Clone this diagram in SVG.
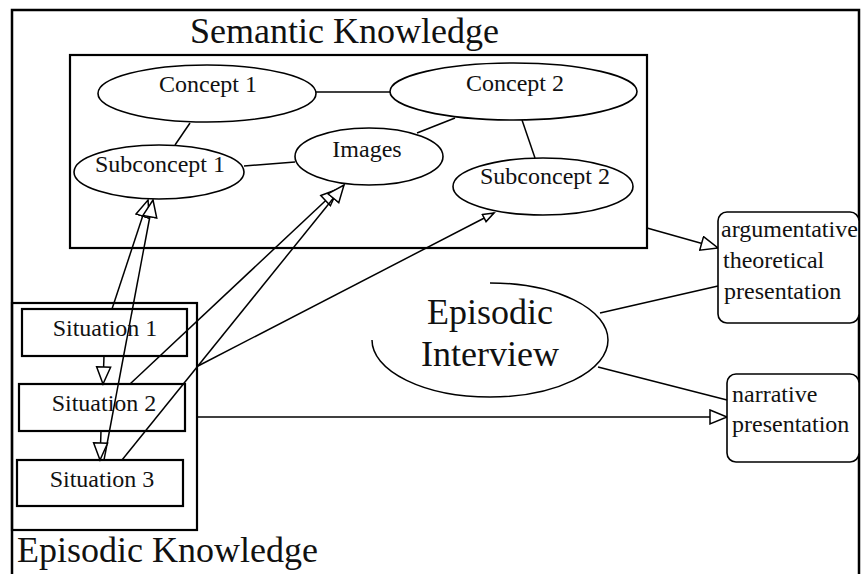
<svg xmlns="http://www.w3.org/2000/svg" width="861" height="574" viewBox="0 0 861 574">
<style>
text{font-family:"Liberation Serif","Times New Roman",serif;fill:#111}
.n{font-family:"Liberation Serif","Times New Roman",serif;font-size:24px;text-anchor:middle}
.t{font-family:"Liberation Serif","Times New Roman",serif;font-size:24px}
.big{font-family:"Liberation Serif","Times New Roman",serif;font-size:36px}
.box{fill:none;stroke:#000;stroke-width:2.2}
.ell{fill:#fff;stroke:#000;stroke-width:1.6}
.rbox{fill:#fff;stroke:#000;stroke-width:1.6}
.ln{fill:none;stroke:#000;stroke-width:1.5}
.ar{marker-end:url(#arr)}
.as{marker-end:url(#arrs)}
</style>
<defs>
<marker id="arr" markerUnits="userSpaceOnUse" markerWidth="20" markerHeight="18" viewBox="0 0 20 18" refX="18" refY="8" orient="auto">
<path d="M1,1 L18,8 L1,15 Z" fill="#fff" stroke="#000" stroke-width="1.5"/>
</marker>
<marker id="arrs" markerUnits="userSpaceOnUse" markerWidth="14" markerHeight="12" viewBox="0 0 14 12" refX="12" refY="5" orient="auto">
<path d="M1,1 L12,5 L1,9 Z" fill="#fff" stroke="#000" stroke-width="1.5"/>
</marker>
</defs>
<rect width="861" height="574" fill="#fff"/>
<path d="M12,574 V10 H859 V574" fill="none" stroke="#000" stroke-width="2.5"/>

<g id="semantic-knowledge">
<rect class="box" x="70" y="55" width="577" height="193"/>
<text class="big" x="190" y="43">Semantic Knowledge</text>
</g>
<g id="episodic-knowledge">
<rect class="box" x="12" y="303" width="185" height="227"/>
<text class="big" x="17" y="562">Episodic Knowledge</text>
</g>

<g id="connectors">
<line class="ln" x1="316" y1="92" x2="390" y2="92"/>
<line class="ln" x1="190" y1="123" x2="175" y2="145"/>
<line class="ln" x1="244" y1="166" x2="295" y2="162"/>
<line class="ln" x1="417" y1="133" x2="455" y2="118"/>
<line class="ln" x1="522" y1="120" x2="535" y2="158"/>
<line class="ln ar" x1="647" y1="228" x2="718" y2="248"/>
<line class="ln" x1="600" y1="313" x2="718" y2="286"/>
<line class="ln" x1="598" y1="367" x2="727" y2="400"/>
<line class="ln ar" x1="197" y1="417" x2="727" y2="417"/>
<line class="ln ar" x1="112" y1="309" x2="148" y2="200"/>
<line class="ln ar" x1="104" y1="460" x2="153" y2="200"/>
<line class="ln ar" x1="104" y1="356" x2="103" y2="384"/>
<line class="ln ar" x1="101" y1="431" x2="100" y2="460"/>
<line class="ln ar" x1="130" y1="384" x2="338" y2="189"/>
<line class="ln ar" x1="122" y1="460" x2="344" y2="185"/>
<line class="ln as" x1="198" y1="366" x2="494" y2="213"/>
</g>

<g id="concept1"><ellipse class="ell" cx="207" cy="93.5" rx="109" ry="28.5"/><text class="n" x="208" y="92">Concept 1</text></g>
<g id="concept2"><ellipse class="ell" cx="513.5" cy="91.5" rx="123.5" ry="28.5"/><text class="n" x="515" y="91">Concept 2</text></g>
<g id="images"><ellipse class="ell" cx="369" cy="156.5" rx="74" ry="28.5"/><text class="n" x="367" y="157">Images</text></g>
<g id="subconcept1"><ellipse class="ell" cx="159" cy="172" rx="85" ry="27"/><text class="n" x="160" y="172">Subconcept 1</text></g>
<g id="subconcept2"><ellipse class="ell" cx="543" cy="186.5" rx="90" ry="28.5"/><text class="n" x="545" y="184">Subconcept 2</text></g>

<g id="situation1"><rect class="box" x="22" y="309" width="165" height="47"/><text class="n" x="105" y="336">Situation 1</text></g>
<g id="situation2"><rect class="box" x="19" y="384" width="166" height="47"/><text class="n" x="104" y="411">Situation 2</text></g>
<g id="situation3"><rect class="box" x="17" y="460" width="166" height="46"/><text class="n" x="102" y="487">Situation 3</text></g>

<g id="episodic-interview">
<path class="ln" d="M490,283 A118,57 0 1,1 372,340"/>
<text class="big" x="490" y="324" text-anchor="middle">Episodic</text>
<text class="big" x="490" y="366" text-anchor="middle">Interview</text>
</g>

<g id="argumentative">
<rect class="rbox" x="718" y="212" width="141" height="111" rx="9"/>
<text class="t" x="721" y="237">argumentative</text>
<text class="t" x="723" y="268">theoretical</text>
<text class="t" x="724" y="299">presentation</text>
</g>
<g id="narrative">
<rect class="rbox" x="727" y="374" width="132" height="88" rx="9"/>
<text class="t" x="732" y="402">narrative</text>
<text class="t" x="732" y="432">presentation</text>
</g>
</svg>
